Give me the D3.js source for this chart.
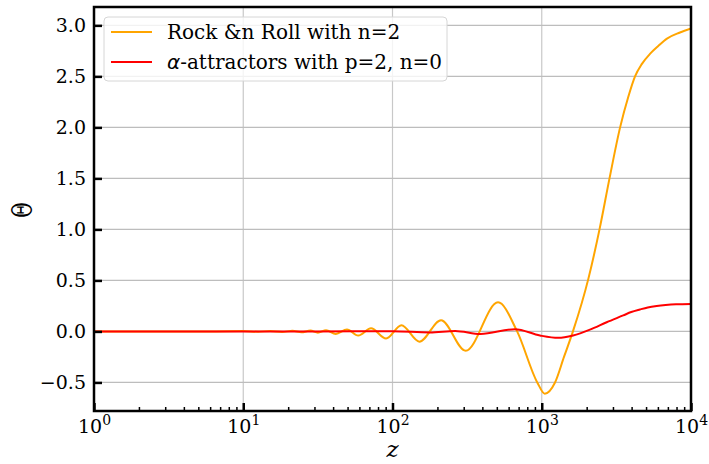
<!DOCTYPE html>
<html>
<head>
<meta charset="utf-8">
<script src="https://cdn.jsdelivr.net/npm/d3@7"></script>
<style>
  body { margin: 0; background: #fff; }
  svg text { font-family: "DejaVu Serif", serif; }
</style>
</head>
<body>
<svg id="chart" width="709" height="464"></svg>
<script>
// log10(z) positions and Theta values
const rockLogZ = [0, 0.8, 1.0, 1.1, 1.18, 1.26, 1.33, 1.39, 1.45, 1.5, 1.555, 1.62, 1.695, 1.77, 1.856,
  1.957, 2.06, 2.18, 2.325, 2.49, 2.707, 2.835, 2.97, 3.02, 3.089, 3.149, 3.209, 3.313, 3.387, 3.454,
  3.525, 3.58, 3.625, 3.67, 3.725, 3.779, 3.839, 3.926, 4.0];
const rockTheta = [0, 0, 0.003, -0.003, 0.004, -0.005, 0.006, -0.008, 0.008, -0.012, 0.012, -0.025, 0.02, -0.04, 0.03,
  -0.07, 0.06, -0.10, 0.11, -0.19, 0.285, 0, -0.5, -0.61, -0.5, -0.25, 0, 0.52, 1.0, 1.5,
  2.0, 2.3, 2.5, 2.62, 2.72, 2.795, 2.87, 2.93, 2.97];

const alphaLogZ = [0, 1.5, 2.0, 2.25, 2.42, 2.59, 2.82, 2.988, 3.11, 3.21, 3.323, 3.435, 3.546, 3.6, 3.658,
  3.71, 3.77, 3.83, 3.9, 4.0];
const alphaTheta = [0, 0, 0.002, -0.01, 0.005, -0.025, 0.022, -0.04, -0.063, -0.04, 0.017, 0.09, 0.157, 0.19, 0.215,
  0.235, 0.25, 0.26, 0.267, 0.27];

const xDomain = [1, 1e4];
const yDomain = [-0.78, 3.18];
const yTicks = [-0.5, 0, 0.5, 1.0, 1.5, 2.0, 2.5, 3.0];
const xTicks = [1, 10, 100, 1000, 10000];

const seriesNames = ["Rock &n Roll with n=2", "-attractors with p=2, n=0"];
const seriesColors = ["#ffa500", "#ff0000"];

const margin = { top: 7, right: 18, bottom: 53, left: 94 };
const width = 709, height = 464;
const iw = width - margin.left - margin.right;
const ih = height - margin.top - margin.bottom;

const svg = d3.select("#chart");
const g = svg.append("g").attr("transform", `translate(${margin.left},${margin.top})`);

const x = d3.scaleLog().domain(xDomain).range([0, iw]);
const y = d3.scaleLinear().domain(yDomain).range([ih, 0]);

// grid
g.append("g").selectAll("line").data(xTicks).join("line")
  .attr("x1", d => x(d)).attr("x2", d => x(d))
  .attr("y1", 0).attr("y2", ih)
  .attr("stroke", "#c8c8c8").attr("stroke-width", 1.2);
g.append("g").selectAll("line").data(yTicks).join("line")
  .attr("x1", 0).attr("x2", iw)
  .attr("y1", d => y(d)).attr("y2", d => y(d))
  .attr("stroke", "#bdbdbd").attr("stroke-width", 1.2);

// curves
const line = d3.line()
  .x(d => x(Math.pow(10, d[0])))
  .y(d => y(d[1]))
  .curve(d3.curveMonotoneX);

svg.append("clipPath").attr("id", "clip")
  .append("rect").attr("width", iw).attr("height", ih);

const plot = g.append("g").attr("clip-path", "url(#clip)");
plot.append("path")
  .datum(d3.zip(rockLogZ, rockTheta))
  .attr("d", line)
  .attr("fill", "none")
  .attr("stroke", seriesColors[0])
  .attr("stroke-width", 2);
plot.append("path")
  .datum(d3.zip(alphaLogZ, alphaTheta))
  .attr("d", line)
  .attr("fill", "none")
  .attr("stroke", seriesColors[1])
  .attr("stroke-width", 2);

// axes: inward ticks
const fmt = d => (d < 0 ? "\u2212" : "") + Math.abs(d).toFixed(1);
const yAxis = d3.axisLeft(y).tickValues(yTicks).tickSize(-8).tickPadding(8).tickFormat(fmt);
const ya = g.append("g").call(yAxis);
ya.select(".domain").remove();
ya.selectAll("line").attr("stroke", "#000").attr("stroke-width", 2.5);
ya.selectAll("text").attr("font-size", 19).attr("fill", "#000")
  .attr("font-family", "DejaVu Serif");

const minor = [];
for (let e = 0; e < 4; e++) for (let k = 2; k < 10; k++) minor.push(k * Math.pow(10, e));
const xMinor = d3.axisBottom(x).tickValues(minor).tickSize(-4).tickFormat("");
const xm = g.append("g").attr("transform", `translate(0,${ih})`).call(xMinor);
xm.select(".domain").remove();
xm.selectAll("line").attr("stroke", "#000").attr("stroke-width", 1.5);

const xAxis = d3.axisBottom(x).tickValues(xTicks).tickSize(-8).tickFormat("");
const xa = g.append("g").attr("transform", `translate(0,${ih})`).call(xAxis);
xa.select(".domain").remove();
xa.selectAll("line").attr("stroke", "#000").attr("stroke-width", 2.5);
xa.selectAll(".tick").append("text")
  .attr("y", 22)
  .attr("text-anchor", "middle")
  .attr("fill", "#000")
  .attr("font-size", 19)
  .attr("font-family", "DejaVu Serif")
  .each(function (d) {
    const t = d3.select(this);
    t.append("tspan").text("10");
    t.append("tspan").attr("dy", -8).attr("font-size", 14).text(Math.round(Math.log10(d)));
  });

// frame
g.append("rect").attr("width", iw).attr("height", ih)
  .attr("fill", "none").attr("stroke", "#000").attr("stroke-width", 2.5);

// axis labels
svg.append("text")
  .attr("transform", "translate(31.5,210) rotate(-90) scale(0.7,1)")
  .attr("text-anchor", "middle")
  .attr("font-family", "DejaVu Sans")
  .attr("font-size", 27)
  .text("\u0398");
svg.append("text")
  .attr("x", margin.left + iw / 2)
  .attr("y", 457)
  .attr("text-anchor", "middle")
  .attr("font-family", "DejaVu Sans")
  .attr("font-style", "italic")
  .attr("font-size", 23)
  .text("z");

// legend
const lg = svg.append("g").attr("transform", "translate(104,17)");
lg.append("rect").attr("width", 343).attr("height", 64).attr("rx", 4)
  .attr("fill", "#fff").attr("fill-opacity", 0.8)
  .attr("stroke", "#d6d6d6").attr("stroke-width", 1);
seriesNames.forEach((name, i) => {
  const yy = 15 + i * 30;
  lg.append("line").attr("x1", 7).attr("x2", 48).attr("y1", yy).attr("y2", yy)
    .attr("stroke", seriesColors[i]).attr("stroke-width", 2);
  const t = lg.append("text").attr("x", 63).attr("y", yy + 7)
    .attr("font-size", 20).attr("font-family", "DejaVu Serif").attr("fill", "#000");
  if (i === 1) {
    t.append("tspan").attr("font-family", "DejaVu Sans").attr("font-style", "italic").text("\u03b1");
  }
  t.append("tspan").text(name);
});
</script>
</body>
</html>
